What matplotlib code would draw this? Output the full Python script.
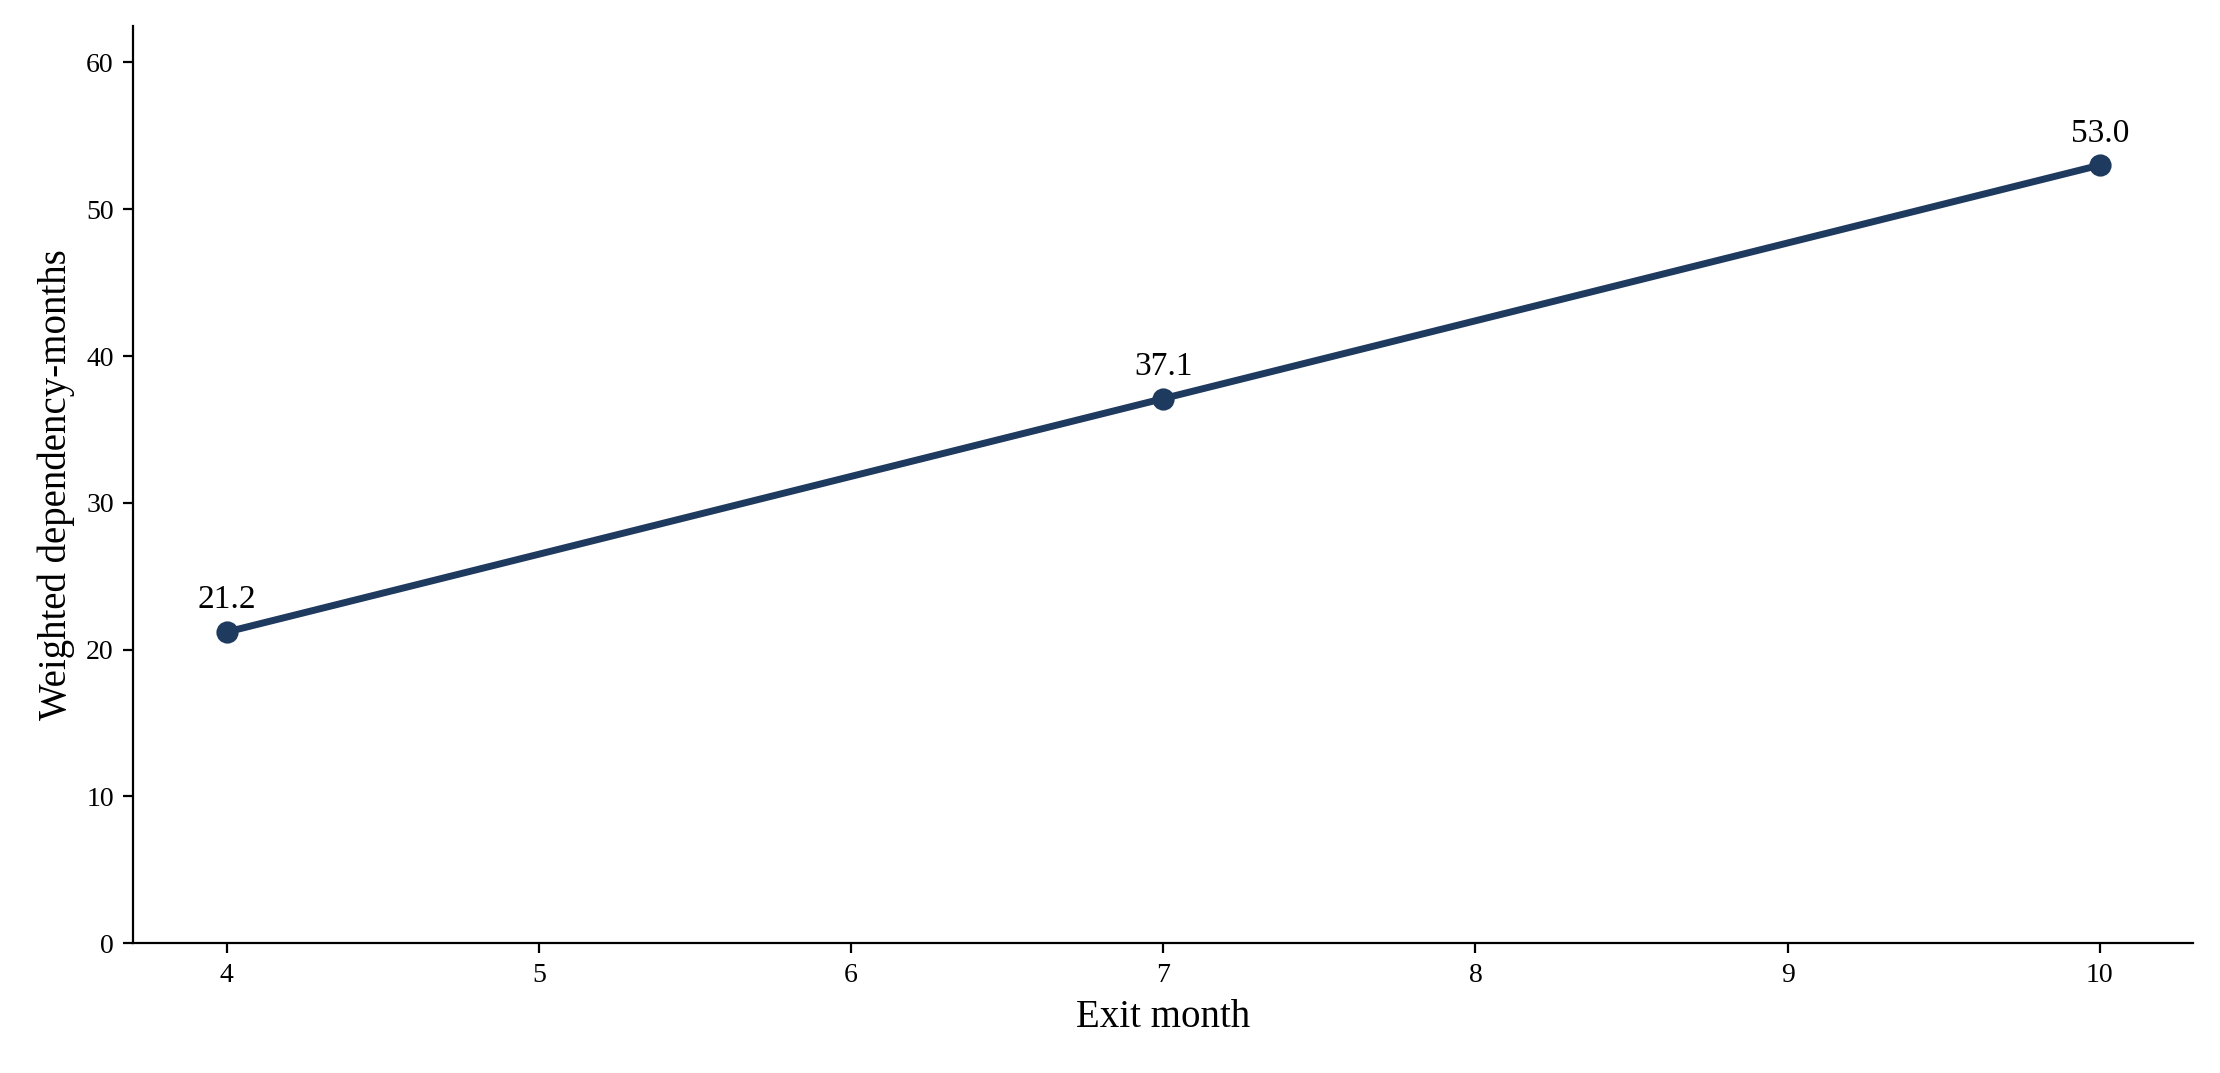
import matplotlib
matplotlib.use("Agg")
import matplotlib.pyplot as plt

months = [4, 7, 10]
values = [21.2, 37.1, 53.0]
labels = ["21.2", "37.1", "53.0"]

plt.rcParams['font.family'] = ['Liberation Serif', 'DejaVu Serif']
fig = plt.figure(figsize=(11.1, 5.365), dpi=200)
ax = fig.add_axes([0.06, 0.121, 0.928, 0.855])
color = "#1f3a5f"
ax.plot(months, values, color=color, lw=2.5, marker='o', ms=7)
for x, y, t in zip(months, values, labels):
    ax.annotate(t, (x, y), xytext=(0, 6), textcoords='offset points', ha='center', va='bottom', fontsize=12)
ax.set_xlim(3.7, 10.3)
ax.set_ylim(0, 62.5)
ax.set_xticks(range(4, 11))
ax.set_yticks(range(0, 61, 10))
ax.tick_params(labelsize=10)
ax.spines['top'].set_visible(False)
ax.spines['right'].set_visible(False)
ax.set_xlabel("Exit month", fontsize=14)
ax.set_ylabel("Weighted dependency-months", fontsize=14)
fig.savefig("out.png", dpi=200)
